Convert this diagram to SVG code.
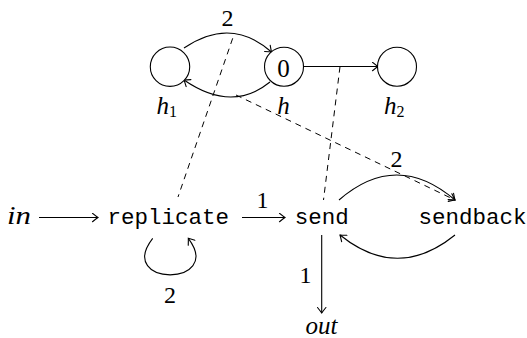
<svg xmlns="http://www.w3.org/2000/svg" width="527" height="338" viewBox="0 0 527 338">
  <style>
    .math { font-family: "Liberation Serif", "Times New Roman", serif; font-size: 24px; fill: #000; }
    .big { font-size: 25px; }
    .it { font-style: italic; }
    .sub { font-size: 16px; font-style: normal; }
    .tt { font-family: "Liberation Mono", "DejaVu Sans Mono", monospace; font-size: 22.5px; fill: #000; }
    .node { fill: #fff; stroke: #000; stroke-width: 1.1; }
    .edge { fill: none; stroke: #000; stroke-width: 1.1; marker-end: url(#to); }
    .dash { fill: none; stroke: #000; stroke-width: 1; stroke-dasharray: 6 5; }
  </style>
  <defs>
    <marker id="to" viewBox="-7 -5 9 10" refX="0" refY="0" markerWidth="9" markerHeight="10" markerUnits="userSpaceOnUse" orient="auto">
      <path d="M -5.5,-4.2 Q -1.5,-1 0,0 Q -1.5,1 -5.5,4.2" fill="none" stroke="#000" stroke-width="1.1" stroke-linecap="round"/>
    </marker>
  </defs>

  <rect width="527" height="338" fill="#fff"/>

  <!-- connectors -->
  <g id="connectors">
    <!-- hash ring edges -->
    <path class="edge" d="M 184,48 Q 231,16 271.5,52"/>
    <path class="edge" d="M 270,82 Q 232,113 184,80"/>
    <path class="edge" d="M 303.5,66.5 L 378,66.5"/>
    <!-- pipeline edges -->
    <path class="edge" d="M 39,217.5 L 98,217.5"/>
    <path class="edge" d="M 242,217.5 L 285,217.5"/>
    <path class="edge" d="M 152.7,238.3 C 115,287 225,287 188.3,238.3"/>
    <path class="edge" d="M 339,200 Q 396.5,150 455,200"/>
    <path class="edge" d="M 455,235 Q 397.5,281.6 340,235"/>
    <path class="edge" d="M 321.7,235 L 321.7,313"/>
    <!-- dashed links between the two layers -->
    <path class="dash" d="M 232.7,38.3 L 178,197"/>
    <path class="dash" d="M 340,66.7 L 323.5,200"/>
    <path class="dash" d="M 236,95 L 455,200" marker-end="url(#to)"/>
  </g>

  <!-- edge labels -->
  <g id="edge-labels">
    <text class="math" x="227.5" y="26" text-anchor="middle">2</text>
    <text class="math" x="262.5" y="208" text-anchor="middle">1</text>
    <text class="math" x="396.5" y="167" text-anchor="middle">2</text>
    <text class="math" x="170" y="303" text-anchor="middle">2</text>
    <text class="math" x="305.5" y="283" text-anchor="middle">1</text>
  </g>

  <!-- ring nodes -->
  <g id="h1">
    <circle class="node" cx="170" cy="66.7" r="19.7"/>
    <text class="math big it" x="156.5" y="114">h<tspan class="sub" dy="3">1</tspan></text>
  </g>
  <g id="h">
    <circle class="node" cx="284" cy="66.7" r="19.5"/>
    <text class="math big" x="283.5" y="76.5" text-anchor="middle">0</text>
    <text class="math big it" x="283.5" y="114" text-anchor="middle">h</text>
  </g>
  <g id="h2">
    <circle class="node" cx="397" cy="66.7" r="19.5"/>
    <text class="math big it" x="384" y="114">h<tspan class="sub" dy="3">2</tspan></text>
  </g>

  <!-- pipeline nodes -->
  <g id="in">
    <text class="math big it" x="7" y="224" textLength="24" lengthAdjust="spacingAndGlyphs">in</text>
  </g>
  <g id="replicate">
    <text class="tt" x="168.3" y="224" text-anchor="middle">replicate</text>
  </g>
  <g id="send">
    <text class="tt" x="321.7" y="224" text-anchor="middle">send</text>
  </g>
  <g id="sendback">
    <text class="tt" x="472.5" y="224" text-anchor="middle">sendback</text>
  </g>
  <g id="out">
    <text class="math big it" x="321.5" y="334" text-anchor="middle">out</text>
  </g>
</svg>
